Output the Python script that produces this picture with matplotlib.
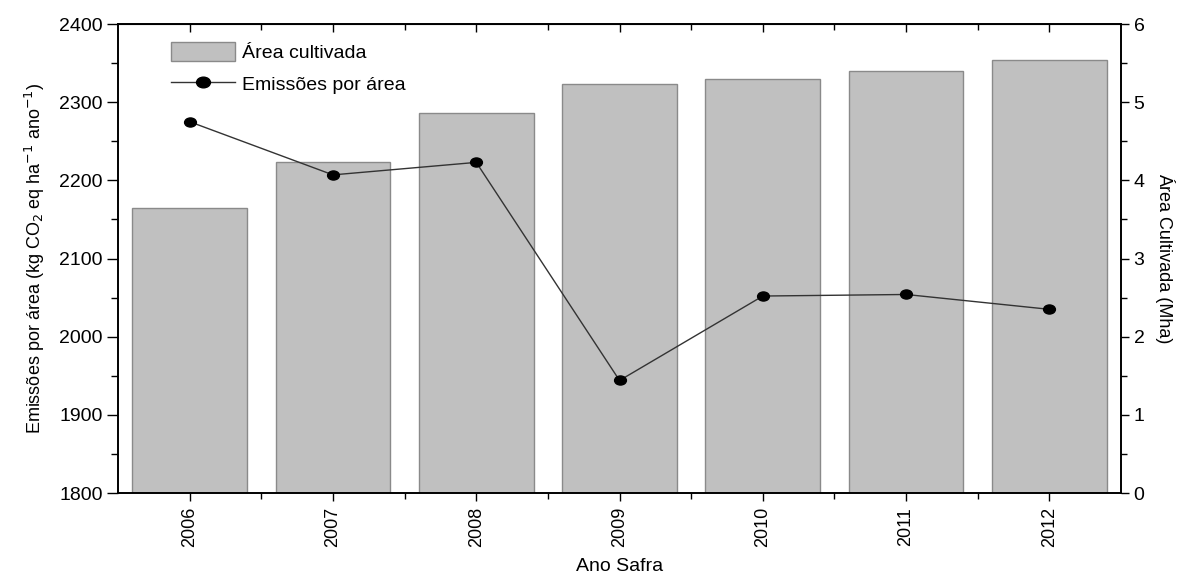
import matplotlib
matplotlib.use('Agg')
import matplotlib.pyplot as plt
from matplotlib.path import Path
from matplotlib.ticker import MultipleLocator
from matplotlib.patches import Patch
from matplotlib.lines import Line2D

plt.rcParams['font.family'] = ['Liberation Sans', 'DejaVu Sans']

# Data
anos = [2006, 2007, 2008, 2009, 2010, 2011, 2012]
area_cultivada = [3.65, 4.24, 4.86, 5.23, 5.30, 5.40, 5.54]   # Mha
emissoes = [2275, 2207, 2223, 1944, 2052, 2054, 2035]         # kg CO2 eq / ha / ano

narrow = ['Liberation Sans Narrow', 'Liberation Sans', 'DejaVu Sans']

# ellipse marker, a bit wider than tall
circ = Path.unit_circle()
ellipse = Path(circ.vertices * [1.3, 1.0], circ.codes)

fig = plt.figure(figsize=(11.84, 5.79), dpi=100)
ax = fig.add_axes([0.0997, 0.1485, 0.8471, 0.81])
ax2 = ax.twinx()

# bars go on the right axis, behind the line
ax2.bar(anos, area_cultivada, width=0.8, color='#c0c0c0', edgecolor='#8a8a8a', linewidth=1.0)
ax2.set_ylim(0, 6)
ax2.yaxis.set_major_locator(MultipleLocator(1))
ax2.yaxis.set_minor_locator(MultipleLocator(0.5))
ax2.tick_params(axis='y', which='major', direction='out', length=6, width=1, labelsize=14, pad=3)
ax2.tick_params(axis='y', which='minor', direction='out', length=4, width=1)
ax2.set_ylabel('Área Cultivada (Mha)', rotation=270, labelpad=22, fontsize=13, family=narrow)

ax.set_zorder(ax2.get_zorder() + 1)
ax.patch.set_visible(False)
ax.plot(anos, emissoes, color='#333333', linewidth=1.0, marker=ellipse,
        markersize=8.5, markerfacecolor='black', markeredgecolor='black')
ax.set_ylim(1800, 2400)
ax.set_xlim(2005.5, 2012.5)
ax.yaxis.set_major_locator(MultipleLocator(100))
ax.yaxis.set_minor_locator(MultipleLocator(50))
ax.set_xticks(anos)
ax.set_xticklabels([str(a) for a in anos], rotation=90)
ax.set_xticks([a + 0.5 for a in anos[:-1]], minor=True)
ax.tick_params(axis='y', which='major', direction='out', length=8, width=1, labelsize=14, pad=3)
ax.tick_params(axis='y', which='minor', direction='out', length=5, width=1)
ax.tick_params(axis='x', which='major', direction='out', length=6, width=1, labelsize=13, pad=4)
ax.tick_params(axis='x', which='minor', direction='out', length=4, width=1)
ax.set_ylabel('Emissões por área (kg CO$_2$ eq ha$^{-1}$ ano$^{-1}$)', fontsize=13, family=narrow, labelpad=9)
ax.set_xlabel('Ano Safra', fontsize=14, labelpad=8)

# top ticks pointing inward, no labels
top = ax.secondary_xaxis('top')
top.set_xticks(anos)
top.set_xticks([a + 0.5 for a in anos[:-1]], minor=True)
top.tick_params(axis='x', which='major', direction='in', length=6, width=1, labeltop=False)
top.tick_params(axis='x', which='minor', direction='in', length=4, width=1)

for spine in ax.spines.values():
    spine.set_linewidth(1.2)
for spine in ax2.spines.values():
    spine.set_linewidth(1.2)

handles = [Patch(facecolor='#c0c0c0', edgecolor='#8a8a8a'),
           Line2D([], [], color='#333333', linewidth=1.0, marker=ellipse, markersize=10,
                  markerfacecolor='black', markeredgecolor='black')]
ax.legend(handles, ['Área cultivada', 'Emissões por área'], loc='upper left',
          bbox_to_anchor=(0.035, 1.0), frameon=False, fontsize=14,
          handlelength=3.3, handleheight=1.2, handletextpad=0.35, labelspacing=0.6)

fig.savefig('out.png', dpi=100)
